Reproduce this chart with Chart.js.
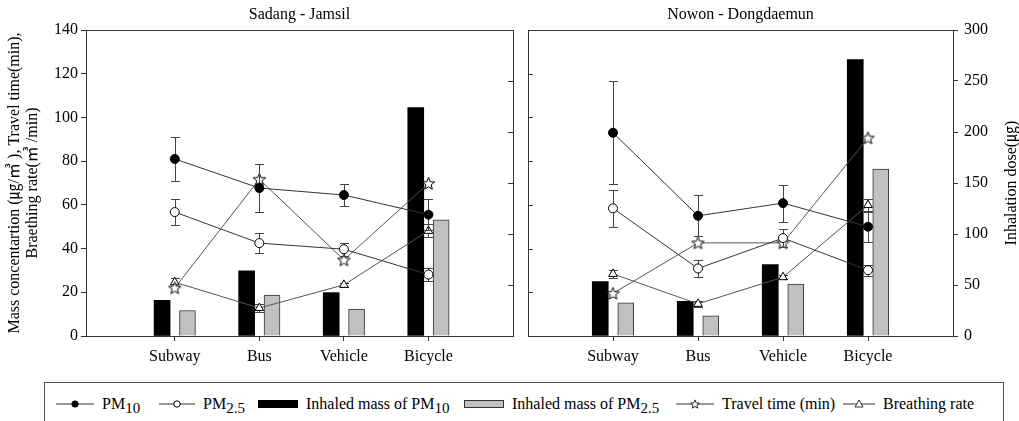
<!DOCTYPE html>
<html lang="en">
<head>
<meta charset="utf-8">
<script src="https://cdn.jsdelivr.net/npm/chart.js"></script>
<style>
  body { margin: 0; background: #fff; width: 1019px; height: 421px; overflow: hidden; position: relative;
         font-family: 'Liberation Serif', 'Times New Roman', 'Noto Sans CJK KR', serif; }
  #left { position: absolute; left: 0; top: 0; }
  #right { position: absolute; left: 520px; top: 0; }
  #legend { position: absolute; left: 44px; top: 382px; width: 958px; height: 50px; border: 1px solid #555; }
  .item { position: absolute; top: 10px; height: 22px; display: flex; align-items: center; font-size: 16px; color: #000; white-space: nowrap; }
  .item svg { margin-right: 8px; flex: none; }
  .item span { position: relative; line-height: 22px; }
  .sub { position: relative; top: 4px; font-size: 15px; }
</style>
</head>
<body>
<canvas id="left" width="520" height="370"></canvas>
<canvas id="right" width="499" height="370"></canvas>

<div id="legend">
  <div class="item" style="left:11px"><svg width="38" height="12"><line x1="0" y1="6" x2="38" y2="6" stroke="#333"/><circle cx="19" cy="6" r="3.5" fill="#000"/></svg><span>PM<span class="sub">10</span></span></div>
  <div class="item" style="left:114px"><svg width="36" height="12"><line x1="0" y1="6" x2="36" y2="6" stroke="#333"/><circle cx="18" cy="6" r="3.2" fill="#fff" stroke="#000"/></svg><span>PM<span class="sub">2.5</span></span></div>
  <div class="item" style="left:213px"><svg width="40" height="10"><rect x="0" y="1" width="40" height="8" fill="#000"/></svg><span>Inhaled mass of PM<span class="sub">10</span></span></div>
  <div class="item" style="left:419px"><svg width="40" height="10"><rect x="0.5" y="1.5" width="39" height="7" fill="#c0c0c0" stroke="#333"/></svg><span>Inhaled mass of PM<span class="sub">2.5</span></span></div>
  <div class="item" style="left:631px"><svg width="38" height="12"><line x1="0" y1="6" x2="38" y2="6" stroke="#333"/><polygon id="lstar" fill="#fff" stroke="#000" stroke-width="0.8"/></svg><span>Travel time (min)</span></div>
  <div class="item" style="left:798px"><svg width="32" height="12"><line x1="0" y1="6" x2="32" y2="6" stroke="#333"/><polygon points="16,2 20,9 12,9" fill="#fff" stroke="#000" stroke-width="0.8"/></svg><span>Breathing rate</span></div>
</div>

<script>
const categories = ['Subway', 'Bus', 'Vehicle', 'Bicycle'];

// Sadang - Jamsil (left axis: concentration / time / breathing rate; right axis: dose)
const sjPm10 = [81, 67.7, 64.5, 55.5];
const sjPm10Err = [10, 11, 5, 7];
const sjPm25 = [56.7, 42.5, 39.7, 28.1];
const sjPm25Err = [6, 4.5, 3, 3];
const sjTravel = [22, 71.7, 34.8, 69.8];
const sjBreath = [24.6, 12.8, 23.4, 48.1];
const sjBreathErr = [1.8, 1.8, 1, 3];
const sjDose10 = [35, 64, 42.5, 224];
const sjDose25 = [25, 40, 26.5, 114];

// Nowon - Dongdaemun
const ndPm10 = [93, 55, 60.8, 50];
const ndPm10Err = [23.5, 9.4, 8.5, 7];
const ndPm25 = [58.4, 30.9, 44.8, 30.1];
const ndPm25Err = [8.5, 4, 4, 2.5];
const ndTravel = [19.5, 42.6, 42.6, 90.6];
const ndBreath = [28.4, 14.7, 26.9, 59.9];
const ndBreathErr = [1.8, 1.5, 1, 3];
const ndDose10 = [53.4, 34, 70, 271];
const ndDose25 = [32.4, 19.7, 51, 163.7];

const FONT = "'Liberation Serif', 'Times New Roman', 'Noto Sans CJK KR', serif";
Chart.defaults.font.family = FONT;
Chart.defaults.font.size = 16;
Chart.defaults.color = '#000';
Chart.defaults.animation = false;

// 5-point star marker
function starPath(ctx, cx, cy, ro, ri) {
  ctx.beginPath();
  for (let i = 0; i < 10; i++) {
    const r = i % 2 ? ri : ro;
    const a = -Math.PI / 2 + i * Math.PI / 5;
    ctx.lineTo(cx + r * Math.cos(a), cy + r * Math.sin(a));
  }
  ctx.closePath();
}
const starImg = document.createElement('canvas');
starImg.width = 15; starImg.height = 15;
(function () {
  const c = starImg.getContext('2d');
  starPath(c, 7.5, 8, 6.5, 2.8);
  c.fillStyle = '#fff'; c.fill();
  c.strokeStyle = '#000'; c.lineWidth = 1; c.stroke();
})();
// legend star
(function () {
  const pts = [];
  for (let i = 0; i < 10; i++) {
    const r = i % 2 ? 2 : 4.6;
    const a = -Math.PI / 2 + i * Math.PI / 5;
    pts.push((19 + r * Math.cos(a)).toFixed(2) + ',' + (6.5 + r * Math.sin(a)).toFixed(2));
  }
  document.getElementById('lstar').setAttribute('points', pts.join(' '));
})();

const pts = (arr) => arr.map((v, i) => ({ x: i + 1, y: v }));
const barPts = (arr, off) => arr.map((v, i) => ({ x: i + 1 + off, y: v }));

// error bars, drawn just before each line dataset
const errPlugin = {
  id: 'errbars',
  beforeDatasetDraw(chart, args) {
    const ds = chart.data.datasets[args.index];
    if (!ds.err) return;
    const ctx = chart.ctx, xs = chart.scales.x, ys = chart.scales[ds.yAxisID];
    ctx.save();
    ctx.strokeStyle = '#444';
    ctx.lineWidth = 1;
    ds.data.forEach((p, i) => {
      const e = ds.err[i];
      const px = Math.round(xs.getPixelForValue(p.x)) + 0.5;
      const t = Math.round(ys.getPixelForValue(p.y + e)) + 0.5;
      const b = Math.round(ys.getPixelForValue(p.y - e)) + 0.5;
      ctx.beginPath();
      ctx.moveTo(px, t); ctx.lineTo(px, b);
      ctx.moveTo(px - 4.5, t); ctx.lineTo(px + 4.5, t);
      ctx.moveTo(px - 4.5, b); ctx.lineTo(px + 4.5, b);
      ctx.stroke();
    });
    ctx.restore();
  }
};

// top frame line, inward ticks on the unlabeled side, rotated axis titles
const framePlugin = {
  id: 'frame',
  afterDraw(chart, args, opts) {
    const ctx = chart.ctx, a = chart.chartArea;
    ctx.save();
    ctx.strokeStyle = '#333';
    ctx.lineWidth = 1;
    ctx.beginPath();
    ctx.moveTo(a.left, Math.round(a.top) + 0.5);
    ctx.lineTo(a.right, Math.round(a.top) + 0.5);
    const s = chart.scales[opts.inner];
    const dir = opts.side === 'right' ? -1 : 1;
    const x0 = opts.side === 'right' ? a.right : a.left;
    s.ticks.forEach(t => {
      if (t.value === s.min || t.value === s.max) return;
      const py = Math.round(s.getPixelForValue(t.value)) + 0.5;
      ctx.moveTo(x0, py); ctx.lineTo(x0 + dir * 5, py);
    });
    ctx.stroke();
    ctx.fillStyle = '#000';
    ctx.font = '16px ' + FONT;
    ctx.textAlign = 'center';
    ctx.textBaseline = 'middle';
    const cy = (a.top + a.bottom) / 2;
    (opts.titles || []).forEach(tt => {
      ctx.save();
      ctx.translate(tt.x, cy);
      ctx.rotate(-Math.PI / 2);
      ctx.fillText(tt.text, 0, 0);
      ctx.restore();
    });
    ctx.restore();
  }
};

function makeChart(id, d, cfg) {
  const grid = { drawOnChartArea: false, color: '#333', tickLength: 5, tickColor: '#333' };
  const border = { color: '#333', width: 1 };
  return new Chart(document.getElementById(id), {
    type: 'bar',
    data: {
      datasets: [
        { type: 'line', label: 'PM10', data: pts(d.pm10), err: d.pm10Err, yAxisID: 'y', order: 1,
          borderColor: '#333', borderWidth: 1, pointStyle: 'circle', pointRadius: 4.5,
          pointBackgroundColor: '#000', pointBorderColor: '#000', pointBorderWidth: 1 },
        { type: 'line', label: 'PM2.5', data: pts(d.pm25), err: d.pm25Err, yAxisID: 'y', order: 2,
          borderColor: '#333', borderWidth: 1, pointStyle: 'circle', pointRadius: 4.5,
          pointBackgroundColor: '#fff', pointBorderColor: '#000', pointBorderWidth: 1 },
        { type: 'line', label: 'Travel time (min)', data: pts(d.travel), yAxisID: 'y', order: 3,
          borderColor: '#555', borderWidth: 1, pointStyle: starImg, pointRadius: 6 },
        { type: 'line', label: 'Breathing rate', data: pts(d.breath), err: d.breathErr, yAxisID: 'y', order: 4,
          borderColor: '#555', borderWidth: 1, pointStyle: 'triangle', pointRadius: 5,
          pointBackgroundColor: '#fff', pointBorderColor: '#000', pointBorderWidth: 1 },
        { type: 'bar', label: 'Inhaled mass of PM10', data: barPts(d.dose10, -0.15), yAxisID: 'y2', order: 10,
          backgroundColor: '#000', borderColor: '#000', borderWidth: 0, barThickness: 16, grouped: false },
        { type: 'bar', label: 'Inhaled mass of PM2.5', data: barPts(d.dose25, 0.15), yAxisID: 'y2', order: 11,
          backgroundColor: '#c0c0c0', borderColor: '#333', borderWidth: 1, barThickness: 16, grouped: false }
      ]
    },
    options: {
      responsive: false,
      layout: { padding: 0 },
      plugins: {
        legend: { display: false },
        tooltip: { enabled: false },
        title: { display: true, text: cfg.title, fullSize: false, font: { size: 16, weight: 'normal' },
                 padding: { top: 5, bottom: 5.8 }, color: '#000' },
        frame: { inner: cfg.inner, side: cfg.innerSide, titles: cfg.titles }
      },
      scales: {
        x: {
          type: 'linear', min: cfg.xmin, max: 5, offset: false, position: 'bottom',
          grid: { ...grid, offset: false }, border,
          afterBuildTicks: s => { s.ticks = categories.map((c, i) => ({ value: i + 1 })); },
          ticks: { padding: 6, font: { size: 16 }, callback: v => categories[v - 1] },
          afterFit: s => { s.height = 34; }
        },
        y: {
          position: 'left', min: 0, max: 140,
          grid: cfg.leftLabels ? grid : { ...grid, drawTicks: false }, border,
          ticks: { display: cfg.leftLabels, stepSize: 20, padding: 3, font: { size: 16 } },
          afterFit: s => { s.width = cfg.leftW; }
        },
        y2: {
          position: 'right', min: 0, max: 300,
          grid: cfg.leftLabels ? { ...grid, drawTicks: false } : grid, border,
          ticks: { display: !cfg.leftLabels, stepSize: 50, padding: 6, font: { size: 16 } },
          afterFit: s => { s.width = cfg.rightW; }
        }
      }
    },
    plugins: [errPlugin, framePlugin]
  });
}

makeChart('left', {
  pm10: sjPm10, pm10Err: sjPm10Err, pm25: sjPm25, pm25Err: sjPm25Err,
  travel: sjTravel, breath: sjBreath, breathErr: sjBreathErr, dose10: sjDose10, dose25: sjDose25
}, {
  title: 'Sadang - Jamsil', xmin: -0.05, leftLabels: true, leftW: 86, rightW: 4,
  inner: 'y2', innerSide: 'right',
  titles: [
    { x: 15, text: 'Mass concentartion (㎍/㎥ ), Travel time(min),' },
    { x: 33, text: 'Braething rate(㎥ /min)' }
  ]
});

makeChart('right', {
  pm10: ndPm10, pm10Err: ndPm10Err, pm25: ndPm25, pm25Err: ndPm25Err,
  travel: ndTravel, breath: ndBreath, breathErr: ndBreathErr, dose10: ndDose10, dose25: ndDose25
}, {
  title: 'Nowon - Dongdaemun', xmin: 0, leftLabels: false, leftW: 8, rightW: 66,
  inner: 'y', innerSide: 'left',
  titles: [ { x: 492, text: 'Inhalation dose(㎍)' } ]
});
</script>
</body>
</html>
